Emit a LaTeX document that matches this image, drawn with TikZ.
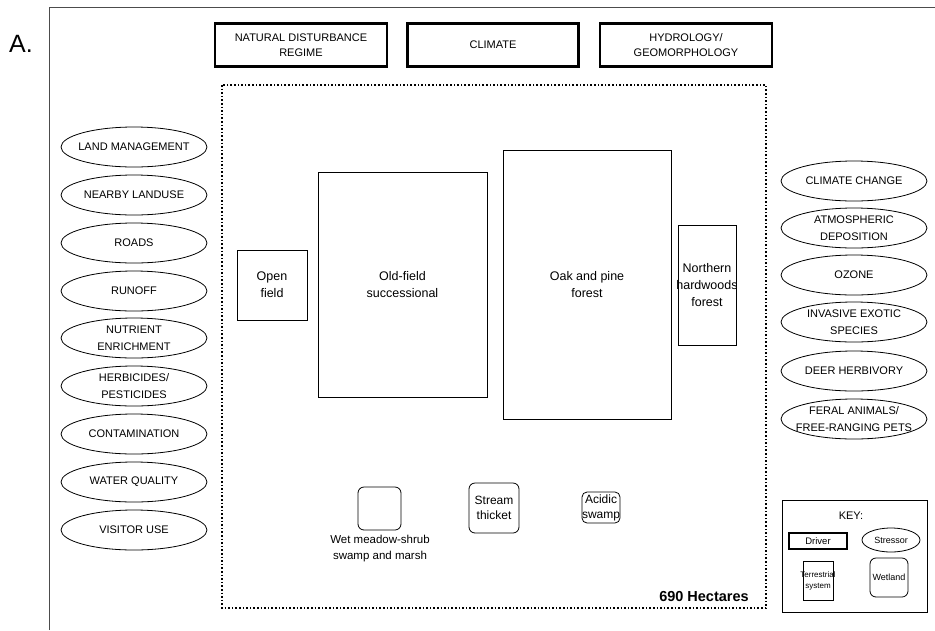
\documentclass[tikz,border=0pt]{standalone}
\usepackage{fontspec}
\setmainfont{Liberation Sans}
\usetikzlibrary{shapes.geometric}

\tikzset{
  driver/.style={draw, line width=2.4pt, align=center, inner sep=0pt, font=\fontsize{11}{15.5}\selectfont},
  stressor/.style={draw, ellipse, line width=0.8pt, align=center, inner xsep=-12pt, inner ysep=0pt,
    minimum width=146, minimum height=40, font=\fontsize{11}{17}\selectfont},
  terrestrial/.style={draw, line width=0.8pt, align=center, inner sep=0pt, font=\fontsize{12.5}{17}\selectfont},
  wetland/.style={draw, rounded corners=6pt, line width=0.8pt, align=center, inner sep=0pt, font=\fontsize{12}{15}\selectfont},
}

\begin{document}
\begin{tikzpicture}[x=1pt, y=-1pt]
    \useasboundingbox (0,0) rectangle (935,630);

    % Panel frame and label
    \draw [black!70, line width=1pt] (49,630) -- (49,7) -- (935,7);
    \node (panel) at (21,44) {\fontsize{25}{29}\selectfont A.};

    % Drivers
    \node [driver, minimum width=172, minimum height=43] (natdist) at (301,45) {NATURAL DISTURBANCE\\REGIME};
    \node [driver, minimum width=171, minimum height=43] (climate) at (493,45) {CLIMATE};
    \node [driver, minimum width=172, minimum height=43] (hydro) at (686,45) {HYDROLOGY/\\GEOMORPHOLOGY};

    % Park boundary
    \draw [dotted, line width=1.6pt] (222,85) rectangle (766,608);

    % Stressors, left
    \node [stressor] (landmgmt) at (134,147) {LAND MANAGEMENT};
    \node [stressor] (landuse) at (134,195) {NEARBY LANDUSE};
    \node [stressor] (roads) at (134,243) {ROADS};
    \node [stressor] (runoff) at (134,291) {RUNOFF};
    \node [stressor] (nutrient) at (134,338) {NUTRIENT\\ENRICHMENT};
    \node [stressor] (herbicides) at (134,386) {HERBICIDES/\\PESTICIDES};
    \node [stressor] (contam) at (134,434) {CONTAMINATION};
    \node [stressor] (water) at (134,482) {WATER QUALITY};
    \node [stressor] (visitor) at (134,530) {VISITOR USE};

    % Stressors, right
    \node [stressor] (climchange) at (854,181) {CLIMATE CHANGE};
    \node [stressor] (deposition) at (854,228) {ATMOSPHERIC\\DEPOSITION};
    \node [stressor] (ozone) at (854,275) {OZONE};
    \node [stressor] (invasive) at (854,322) {INVASIVE EXOTIC\\SPECIES};
    \node [stressor] (deer) at (854,371) {DEER HERBIVORY};
    \node [stressor] (feral) at (854,419) {FERAL ANIMALS/\\FREE-RANGING PETS};

    % Terrestrial systems
    \node [terrestrial, minimum width=70, minimum height=70] (openfield) at (272,285) {Open\\field};
    \node [terrestrial, minimum width=169, minimum height=225] (oldfield) at (402.5,284.5) {Old-field\\successional};
    \node [terrestrial, minimum width=168, minimum height=269] (oakpine) at (587,284.5) {Oak and pine\\forest};
    \node [terrestrial, inner xsep=-2pt, minimum width=58, minimum height=120] (northern) at (707,285) {Northern\\hardwoods\\forest};

    % Wetlands
    \node [wetland, minimum width=43, minimum height=43] (wetmeadow) at (379.5,508.5) {};
    \node [font=\fontsize{11.5}{16}\selectfont, align=center] (wetlabel) at (380,549) {Wet meadow-shrub\\swamp and marsh};
    \node [wetland, minimum width=50, minimum height=50] (stream) at (494,508) {Stream\\thicket};
    \node [wetland, inner xsep=-2pt, minimum width=38, minimum height=31, rounded corners=5pt] (acidic) at (601,507.5) {Acidic\\swamp};

    \node [font=\bfseries\fontsize{14.5}{16}\selectfont] (area) at (704,596) {690 Hectares};

    % Key
    \draw [line width=0.8pt] (782,500) rectangle (927,612);
    \node [font=\fontsize{11}{12}\selectfont] (keytitle) at (851,516) {KEY:};
    \node [driver, minimum width=58, minimum height=16, font=\fontsize{9.5}{11}\selectfont] (keydriver) at (818,541) {Driver};
    \node [stressor, minimum width=58, minimum height=24, font=\fontsize{9}{10}\selectfont] (keystressor) at (891,540) {Stressor};
    \node [terrestrial, inner xsep=-4pt, minimum width=30, minimum height=39, font=\fontsize{8}{11}\selectfont] (keyterr) at (818,580.5) {Terrestrial\\system};
    \node [wetland, minimum width=38, minimum height=39, font=\fontsize{9}{10}\selectfont] (keywetland) at (889,577.5) {Wetland};
\end{tikzpicture}
\end{document}
